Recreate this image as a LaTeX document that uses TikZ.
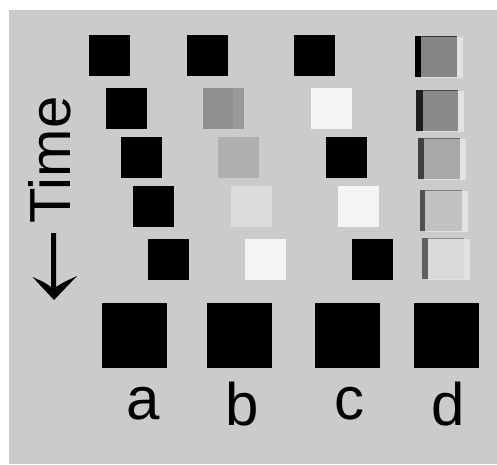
\documentclass[tikz,border=0pt]{standalone}
\usepackage{fontspec}
\setmainfont{Liberation Sans}

\definecolor{panel}{RGB}{203,203,203}
\definecolor{ghost}{RGB}{226,226,226}
\definecolor{nearwhite}{RGB}{244,244,244}

\tikzset{
  label text/.style={inner sep=0pt, anchor=base, font=\fontsize{60}{62}\selectfont},
  axis text/.style={inner sep=0pt, anchor=base, rotate=90, font=\fontsize{58}{60}\selectfont},
}

% plain square: colour, left, top, side
\newcommand\plainsq[4]{\fill[#1] (#2,#3) rectangle ++(#4,#4);}
% smeared square: left, top, strip width, strip colour, body colour
\newcommand\smearsq[5]{%
  \fill[ghost] (#1+6,#2+1) rectangle (#1+48,#2+42);
  \fill[#5] (#1,#2) rectangle (#1+42,#2+41);
  \fill[#4] (#1,#2) rectangle (#1+#3,#2+41);
  \fill[#4, opacity=0.6] (#1,#2) rectangle (#1+42,#2+1.2);
}

\begin{document}
\begin{tikzpicture}[x=1pt,y=-1pt]
\useasboundingbox (0,0) rectangle (497,464);
\fill[white] (0,0) rectangle (497,464);
\fill[panel] (9,10) rectangle (497,464);

% column a: black square moving right
\plainsq{black}{89}{35}{41}
\plainsq{black}{106}{88}{41}
\plainsq{black}{121}{137}{41}
\plainsq{black}{133}{186}{41}
\plainsq{black}{148}{239}{41}

% column b: square fading out
\plainsq{black}{187}{35}{41}
\plainsq{black!44}{203}{88}{41}
\fill[black!40] (233,88) rectangle (244,129);
\plainsq{black!31}{218}{137}{41}
\plainsq{black!14}{231}{186}{41}
\plainsq{nearwhite}{245}{239}{41}

% column c: alternating black and white
\plainsq{black}{294}{35}{41}
\plainsq{nearwhite}{311}{88}{41}
\plainsq{black}{326}{137}{41}
\plainsq{nearwhite}{338}{186}{41}
\plainsq{black}{352}{239}{41}

% column d: smeared squares
\definecolor{da}{RGB}{0,0,0}     \definecolor{fa}{RGB}{133,133,133}
\definecolor{db}{RGB}{30,30,30}  \definecolor{fb}{RGB}{138,138,138}
\definecolor{dc}{RGB}{64,64,64}  \definecolor{fc}{RGB}{168,168,168}
\definecolor{dd}{RGB}{80,80,80}  \definecolor{fd}{RGB}{194,194,194}
\definecolor{de}{RGB}{96,96,96}  \definecolor{fe}{RGB}{217,217,217}
\smearsq{415}{36}{6}{da}{fa}
\smearsq{416}{90}{7}{db}{fb}
\smearsq{418}{138}{6}{dc}{fc}
\smearsq{420}{190}{5}{dd}{fd}
\smearsq{422}{238}{6}{de}{fe}

% reference squares
\plainsq{black}{102}{303}{65}
\plainsq{black}{207}{303}{65}
\plainsq{black}{315}{303}{65}
\plainsq{black}{414}{303}{65}

% labels
\node[label text] (la) at (143.5,419) {a};
\node[label text] (lb) at (242.5,425) {b};
\node[label text] (lc) at (349.5,419) {c};
\node[label text] (ld) at (448.5,425) {d};

% time axis
\node[axis text] (time) at (70,160) {Time};
\fill[black] (51,233) -- (56,233) -- (56,287)
  .. controls (64,282) .. (77,276) -- (54,300) -- (32.5,277)
  .. controls (44,282) .. (51,287) -- cycle;
\end{tikzpicture}
\end{document}
